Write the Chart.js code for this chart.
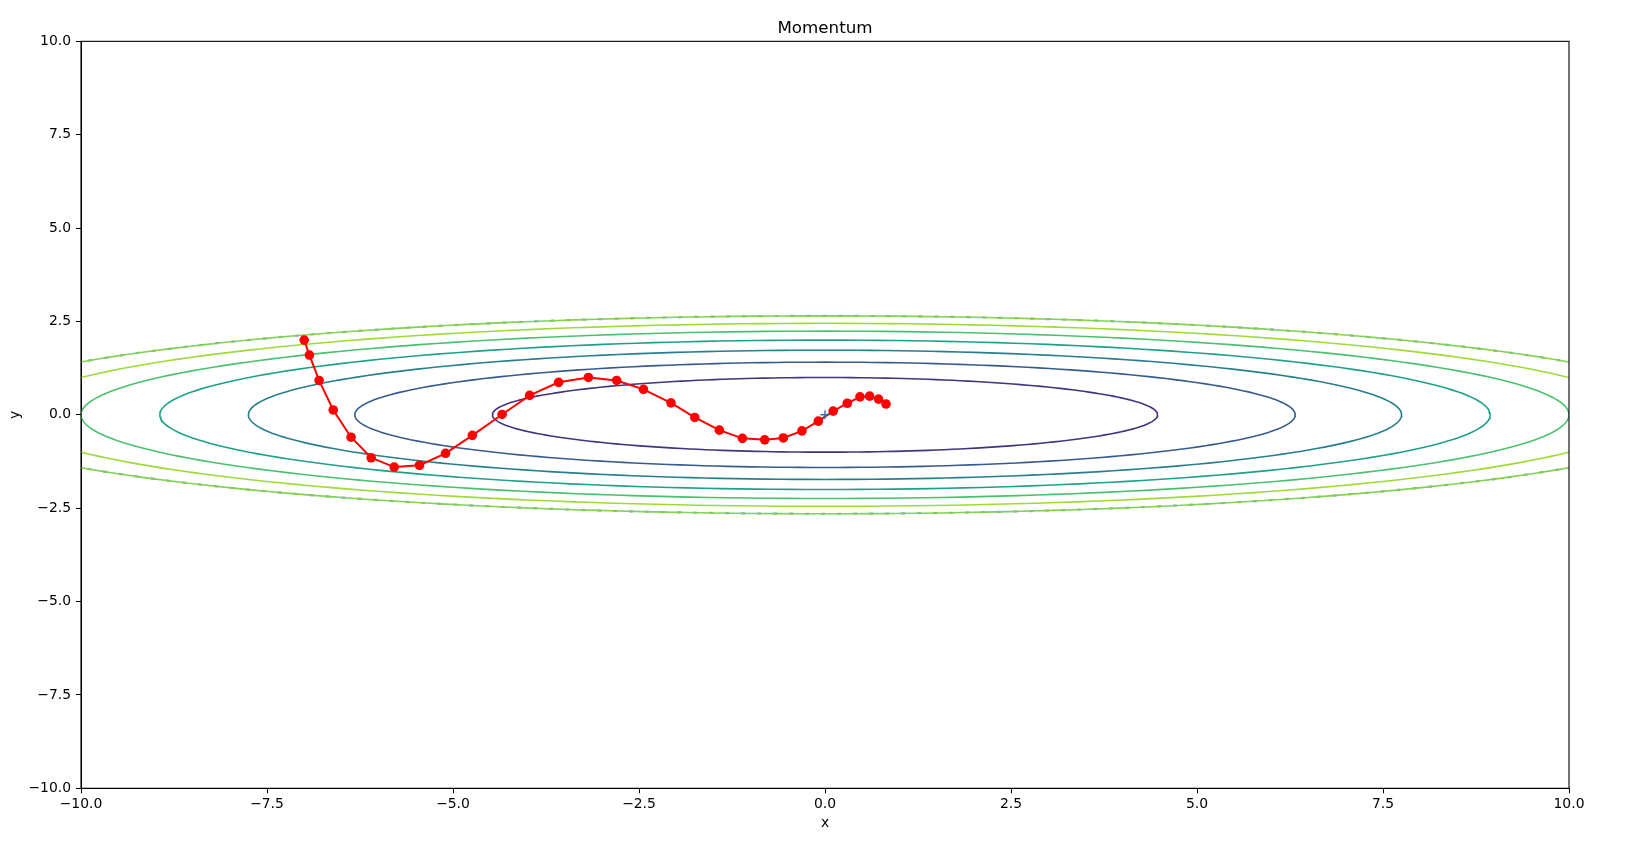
<!DOCTYPE html>
<html>
<head>
<meta charset="utf-8">
<title>Momentum</title>
<script src="https://cdn.jsdelivr.net/npm/chart.js@4/dist/chart.umd.min.js"></script>
<style>
  html, body { margin: 0; padding: 0; background: #fff; }
  canvas { display: block; }
</style>
</head>
<body>
<canvas id="chart" width="1629" height="860"></canvas>
<script>
// optimizer path
const pathX = [-7.00, -6.93, -6.80, -6.61, -6.37, -6.10, -5.79, -5.45, -5.10, -4.74,
               -4.34, -3.97, -3.58, -3.18, -2.80, -2.44, -2.07, -1.75, -1.42, -1.11,
               -0.81, -0.56, -0.31, -0.09, 0.11, 0.30, 0.47, 0.60, 0.72, 0.82];
const pathY = [2.00, 1.60, 0.92, 0.13, -0.60, -1.15, -1.40, -1.35, -1.03, -0.55,
               0.01, 0.52, 0.87, 1.00, 0.92, 0.68, 0.32, -0.07, -0.41, -0.63,
               -0.67, -0.62, -0.43, -0.17, 0.10, 0.31, 0.48, 0.50, 0.42, 0.29];

// contour levels: half widths along x and y
const contourLevels = [1, 2, 3, 4, 5, 6, 7];
const contourHalfX  = [4.47, 6.32, 7.75, 8.94, 10.0, 10.95, 11.83];
const contourHalfY  = [1.00, 1.41, 1.73, 2.00, 2.24, 2.45, 2.65];
const contourColors = ['#46327e', '#365c8d', '#277f8e', '#1fa187', '#4ac16d', '#a0da39', '#7fd34e'];

const axisTicks = [-10, -7.5, -5, -2.5, 0, 2.5, 5, 7.5, 10];

const minimum = [{ x: 0, y: 0 }];

function ellipse(a, b) {
  const pts = [];
  for (let i = 0; i <= 240; i++) {
    const t = i / 240 * Math.PI * 2;
    pts.push({ x: a * Math.cos(t), y: b * Math.sin(t) });
  }
  return pts;
}

const fmt = v => (v < 0 ? '\u2212' : '') + Math.abs(v).toFixed(1);

Chart.defaults.font.family = "'DejaVu Sans', sans-serif";
Chart.defaults.font.size = 13.9;
Chart.defaults.color = '#000';

const datasets = [
  {
    data: minimum,
    showLine: false,
    pointStyle: 'cross',
    pointRadius: 4.5,
    borderColor: '#1f77b4',
    borderWidth: 1.4,
    order: 0
  },
  {
    data: pathX.map((x, i) => ({ x, y: pathY[i] })),
    showLine: true,
    borderColor: '#ff0000',
    borderWidth: 2,
    pointRadius: 4.8,
    pointBackgroundColor: '#ff0000',
    pointBorderWidth: 0,
    order: 1
  }
];

contourLevels.forEach((lvl, i) => {
  datasets.push({
    data: ellipse(contourHalfX[i], contourHalfY[i]),
    showLine: true,
    borderColor: contourColors[i],
    borderWidth: 1.6,
    pointRadius: 0,
    order: 10 + i
  });
});
// rough edge on the outermost ring
datasets.push({
  data: ellipse(contourHalfX[6], contourHalfY[6]),
  showLine: true,
  borderColor: 'rgba(70,90,150,0.6)',
  borderWidth: 2.2,
  borderDash: [4, 12],
  pointRadius: 0,
  order: 30
});

const frame = {
  id: 'frame',
  afterDraw(chart) {
    const { ctx, chartArea: a } = chart;
    ctx.save();
    ctx.strokeStyle = '#000';
    ctx.lineWidth = 1.1;
    ctx.strokeRect(a.left, a.top, a.right - a.left, a.bottom - a.top);
    ctx.restore();
  }
};

new Chart(document.getElementById('chart'), {
  type: 'scatter',
  data: { datasets },
  options: {
    responsive: false,
    animation: false,
    events: [],
    layout: { padding: { top: 0, right: 60, bottom: 0, left: 0 } },
    plugins: {
      legend: { display: false },
      tooltip: { enabled: false },
      title: {
        display: true,
        fullSize: false,
        text: 'Momentum',
        font: { size: 16.7, weight: 'normal' },
        padding: { top: 19, bottom: 2.3 }
      }
    },
    scales: {
      x: {
        type: 'linear',
        min: -10, max: 10,
        afterBuildTicks: s => { s.ticks = axisTicks.map(v => ({ value: v })); },
        afterFit: s => { s.height = 71.7; },
        ticks: { callback: fmt, padding: 3, maxRotation: 0, autoSkip: false },
        grid: { drawOnChartArea: false, tickLength: 5, tickColor: '#000', tickWidth: 1 },
        border: { color: '#000', width: 1 },
        title: { display: true, text: 'x', padding: { top: 0, bottom: 28.7 } }
      },
      y: {
        type: 'linear',
        min: -10, max: 10,
        afterBuildTicks: s => { s.ticks = axisTicks.map(v => ({ value: v })); },
        afterFit: s => { s.width = 81; },
        ticks: { callback: fmt, padding: 5, autoSkip: false },
        grid: { drawOnChartArea: false, tickLength: 5, tickColor: '#000', tickWidth: 1 },
        border: { color: '#000', width: 1 },
        title: { display: true, text: 'y', padding: { top: 7.3, bottom: 0 } }
      }
    }
  },
  plugins: [frame]
});
</script>
</body>
</html>
